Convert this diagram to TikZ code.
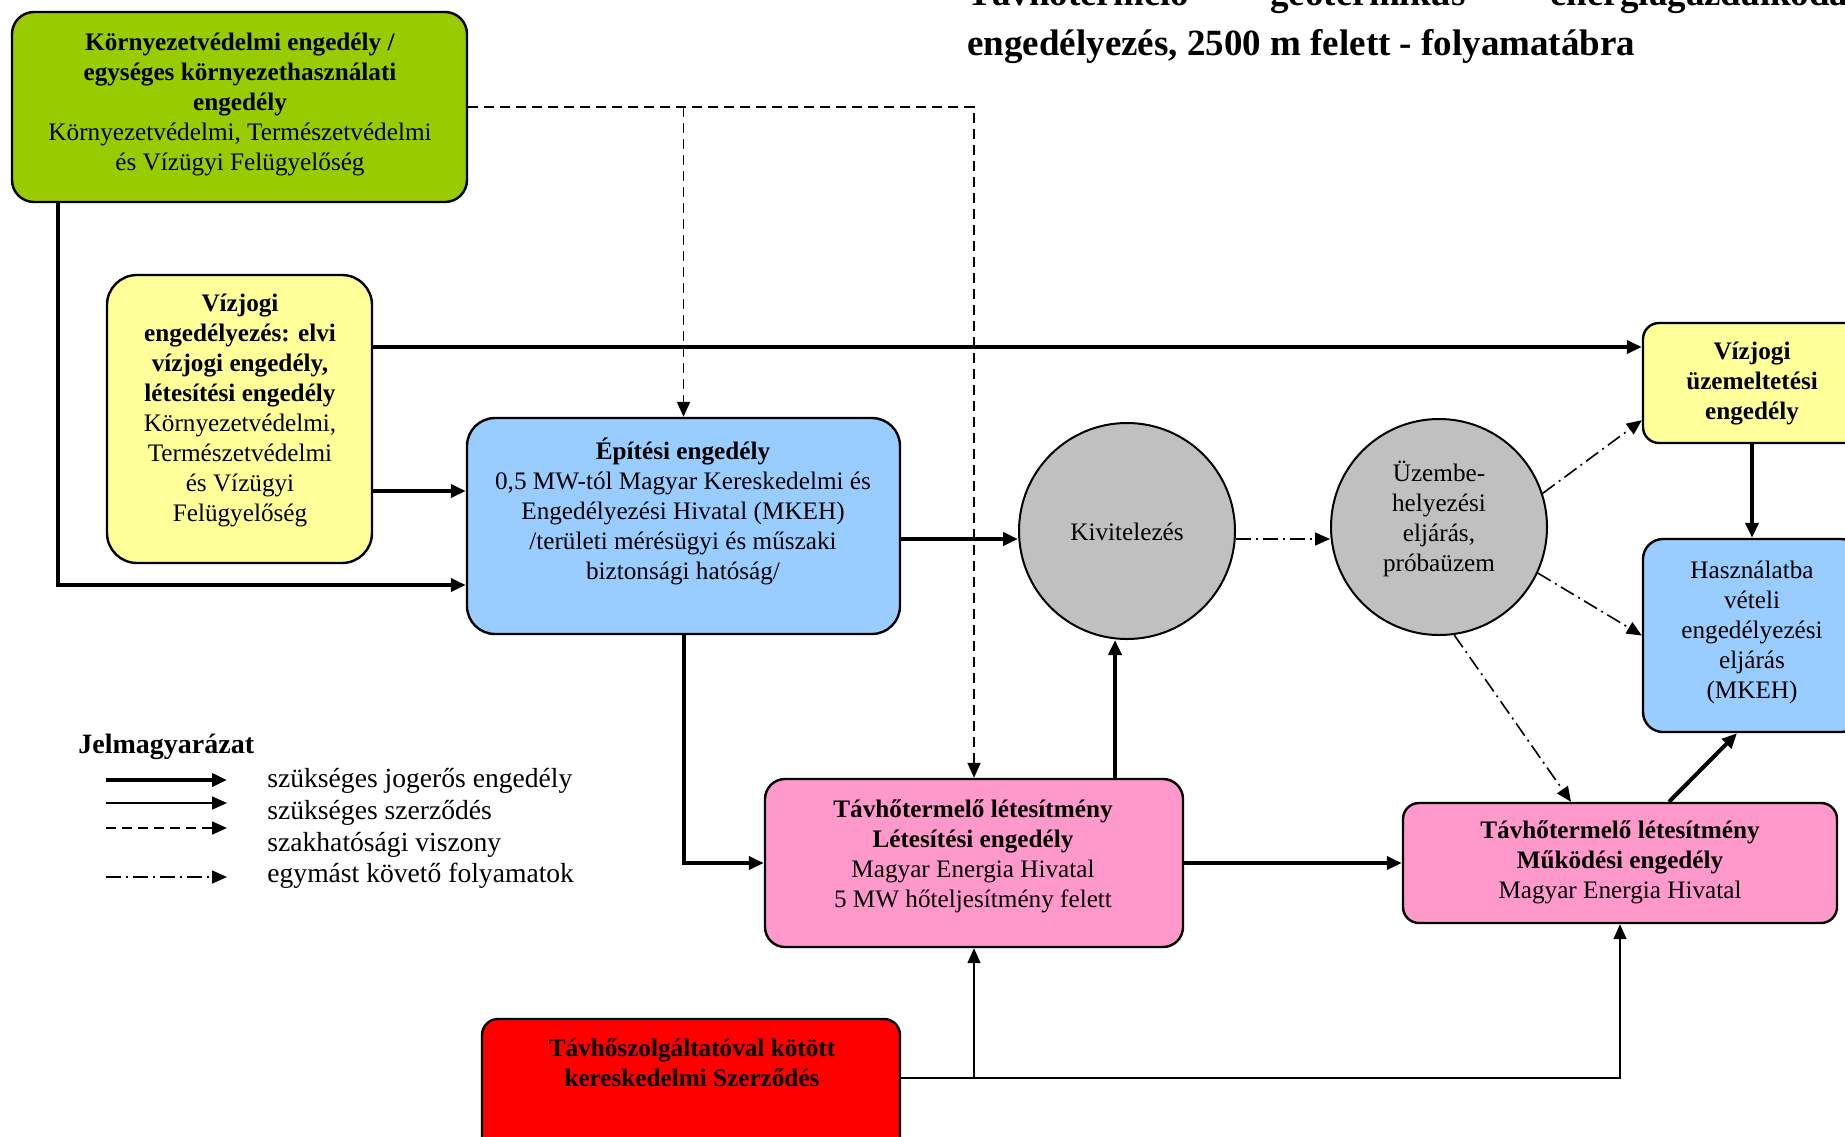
\documentclass[tikz,border=0pt]{standalone}
\usepackage{fontspec}
\setmainfont{Liberation Serif}
\usetikzlibrary{arrows.meta}
\definecolor{cgreen}{HTML}{99CC00}
\definecolor{cyellow}{HTML}{FFFF99}
\definecolor{cblue}{HTML}{99CCFF}
\definecolor{cgray}{HTML}{C0C0C0}
\definecolor{cpink}{HTML}{FF99CC}
\definecolor{cred}{HTML}{FF0000}
\begin{document}
\begin{tikzpicture}[x=0.5pt,y=-0.5pt,
  box/.style={draw=black, line width=1.2pt, rounded corners=9pt, inner sep=0pt},
  txt/.style={align=center, font=\fontsize{12.6}{15}\selectfont, inner sep=0pt},
  circ/.style={circle, draw=black, line width=1pt, fill=cgray, minimum size=108pt, inner sep=0pt},
  tip/.style={-{Triangle[length=7.5pt,width=6.5pt]}},
  thickarr/.style={tip, line width=2pt},
  thinarr/.style={tip, line width=0.8pt},
  dasharr/.style={tip, line width=0.8pt, dash pattern=on 5pt off 3pt},
  dotarr/.style={tip, line width=0.8pt, dash pattern=on 7.5pt off 2.5pt on 1pt off 2.5pt},
  ttl/.style={font=\fontsize{18.5}{25}\selectfont\bfseries, inner sep=0pt, anchor=base west},
  leg/.style={font=\fontsize{13.8}{15}\selectfont, inner sep=0pt, anchor=base west}
]
\useasboundingbox (0,0) rectangle (1845,1136);
\begin{scope}
\clip (0,0) rectangle (1845,1136);

% title
\node[ttl] (t1) at (967,5) {Távhőtermelő};
\node[ttl] (t2) at (1270,5) {geotermikus};
\node[ttl] (t3) at (1550,5) {energiagazdálkodási};
\node[ttl] (t4) at (967,55) {engedélyezés, 2500 m felett - folyamatábra};

% boxes
\node[box, fill=cgreen, rounded corners=11pt, minimum width=227.5pt, minimum height=95pt] (green) at (239.5,107) {};
\node[box, fill=cyellow, rounded corners=15pt, minimum width=132.5pt, minimum height=144pt] (vj) at (239.5,419) {};
\node[box, fill=cblue, rounded corners=14pt, minimum width=216.5pt, minimum height=108pt] (epit) at (683.5,526) {};
\node[circ] (kiv) at (1127,531) {};
\node[circ] (uz) at (1439,527) {};
\node[box, fill=cyellow, rounded corners=8pt, minimum width=109pt, minimum height=60pt] (vjuz) at (1752,383) {};
\node[box, fill=cblue, rounded corners=10pt, minimum width=109pt, minimum height=96.5pt] (haszn) at (1752,635.5) {};
\node[box, fill=cpink, rounded corners=10pt, minimum width=209pt, minimum height=84pt] (let) at (974,863) {};
\node[box, fill=cpink, rounded corners=8pt, minimum width=217pt, minimum height=60pt] (muk) at (1620,863) {};
\node[box, fill=cred, rounded corners=8pt, minimum width=209pt, minimum height=70.5pt] (red) at (691,1089.5) {};

% texts
\node[txt] (green-t) at (240,104) {\textbf{Környezetvédelmi engedély /}\\ \textbf{egységes környezethasználati}\\ \textbf{engedély}\\ Környezetvédelmi, Természetvédelmi\\ és Vízügyi Felügyelőség};
\node[txt] (vj-t) at (240,410) {\textbf{Vízjogi}\\ \textbf{engedélyezés: elvi}\\ \textbf{vízjogi engedély,}\\ \textbf{létesítési engedély}\\ Környezetvédelmi,\\ Természetvédelmi\\ és Vízügyi\\ Felügyelőség};
\node[txt] (epit-t) at (683,511) {\textbf{Építési engedély}\\ 0,5 MW-tól Magyar Kereskedelmi és\\ Engedélyezési Hivatal (MKEH)\\ /területi mérésügyi és műszaki\\ biztonsági hatóság/};
\node[txt] (kiv-t) at (1127,532) {Kivitelezés};
\node[txt] (uz-t) at (1439,518.5) {Üzembe-\\ helyezési\\ eljárás,\\ próbaüzem};
\node[txt] (vjuz-t) at (1752,384) {\textbf{Vízjogi}\\ \textbf{üzemeltetési}\\ \textbf{engedély}};
\node[txt] (haszn-t) at (1752,632) {Használatba\\ vételi\\ engedélyezési\\ eljárás\\ (MKEH)};
\node[txt] (let-t) at (973,856) {\textbf{Távhőtermelő létesítmény}\\ \textbf{Létesítési engedély}\\ Magyar Energia Hivatal\\ 5 MW hőteljesítmény felett};
\node[txt] (muk-t) at (1620,862.5) {\textbf{Távhőtermelő létesítmény}\\ \textbf{Működési engedély}\\ Magyar Energia Hivatal};
\node[txt] (red-t) at (692,1063) {\textbf{Távhőszolgáltatóval kötött}\\ \textbf{kereskedelmi Szerződés}};

% connectors
\draw[thickarr] ([xshift=23.5pt]green.south west) |- ([yshift=-29.5pt]epit.west);
\draw[dasharr] (green.east) -| (let.north);
\draw[dasharr] (green.east -| epit.north) -- (epit.north);
\coordinate (a3) at ([yshift=36pt]vj.east);
\draw[thickarr] (a3) -- (a3 -| vjuz.west);
\coordinate (a4) at ([yshift=-36pt]vj.east);
\draw[thickarr] (a4) -- (a4 -| epit.west);
\coordinate (a5) at ([yshift=-6.5pt]epit.east);
\draw[thickarr] (a5) -- (a5 -| kiv.west);
\draw[thickarr] (epit.south) |- (let.west);
\coordinate (a7) at ([xshift=70.5pt]let.north);
\draw[thickarr] (a7) -- (a7 |- kiv.south);
\coordinate (a8) at ([yshift=-4pt]kiv.east);
\draw[dotarr] (a8) -- (a8 -| uz.west);
\draw[dotarr] (uz.18) -- ([yshift=12pt]vjuz.south west);
\draw[dotarr] (uz.-25) -- (haszn.west);
\draw[dotarr] (uz.-82) -- ([xshift=-24.5pt]muk.north);
\draw[thickarr] (vjuz.south) -- (haszn.north);
\draw[thickarr] ([xshift=24.5pt]muk.north) -- ([xshift=-7.5pt]haszn.south);
\draw[thickarr] (let.east) -- (muk.west);
\coordinate (r1) at ([yshift=5.75pt]red.east);
\draw[thinarr] (r1) -| (muk.south);
\draw[thinarr] (r1 -| let.south) -- (let.south);

% legend
\node[leg, font=\fontsize{14}{15}\selectfont\bfseries] (legt) at (78,753) {Jelmagyarázat};
\coordinate (l1a) at (106,780); \coordinate (l1b) at (227,780);
\coordinate (l2a) at (106,803); \coordinate (l2b) at (227,803);
\coordinate (l3a) at (106,828); \coordinate (l3b) at (227,828);
\coordinate (l4a) at (106,877); \coordinate (l4b) at (227,877);
\draw[thickarr] (l1a) -- (l1b);
\draw[thinarr] (l2a) -- (l2b);
\draw[dasharr] (l3a) -- (l3b);
\draw[dotarr] (l4a) -- (l4b);
\node[leg] (lg1) at (267,787) {szükséges jogerős engedély};
\node[leg] (lg2) at (267,819) {szükséges szerződés};
\node[leg] (lg3) at (267,851) {szakhatósági viszony};
\node[leg] (lg4) at (267,882) {egymást követő folyamatok};
\end{scope}
\end{tikzpicture}
\end{document}
